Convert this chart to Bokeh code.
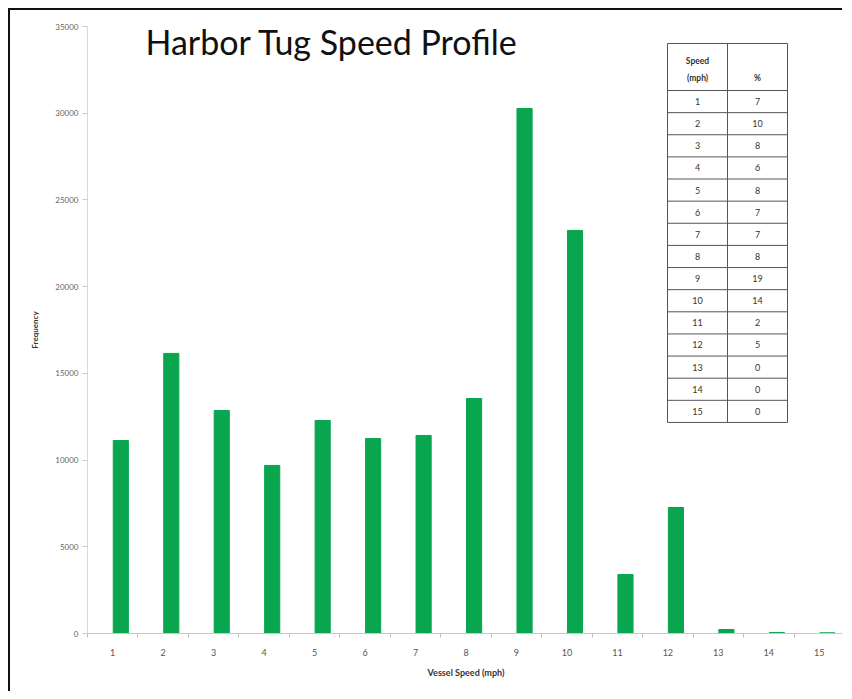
from bokeh.plotting import figure
from bokeh.models import Range1d, FixedTicker, Label
from bokeh.core.properties import value
from bokeh.embed import file_html
from bokeh.resources import INLINE

# ---- data ----
speeds = list(range(1, 16))
frequency = [11130, 16150, 12860, 9690, 12280, 11240, 11420, 13550,
             30270, 23240, 3400, 7265, 230, 60, 40]
table_speed = [str(s) for s in speeds]
table_pct = [7, 10, 8, 6, 8, 7, 7, 8, 19, 14, 2, 5, 0, 0, 0]
y_ticks = [0, 5000, 10000, 15000, 20000, 25000, 30000, 35000]
title_text = "Harbor Tug Speed Profile"
x_label = "Vessel Speed (mph)"
y_label = "Frequency"
table_header = ["Speed", "(mph)", "%"]

GREEN = "#0AA64F"
FONT = "Lato"

W, H = 834, 683
p = figure(width=W, height=H,
           x_range=Range1d(0.5, 15.5), y_range=Range1d(0, 35000),
           output_backend="svg", toolbar_location=None,
           min_border_left=77, min_border_right=0,
           min_border_top=16, min_border_bottom=60)
# dark picture border on the left and top edges
p.styles = {"border-left": "2px solid #111111", "border-top": "2px solid #111111",
            "margin-left": "8px", "margin-top": "8px"}
p.outline_line_color = None
p.xgrid.grid_line_color = None
p.ygrid.grid_line_color = None
p.background_fill_color = "white"
p.border_fill_color = "white"

# pixel-like helper ranges for annotations (table/title)
p.extra_x_ranges = {"px": Range1d(87, 844)}
p.extra_y_ranges = {"py": Range1d(start=633, end=26)}

# bars
p.vbar(x=[s + 0.16 for s in speeds], top=frequency, width=0.3,
       fill_color=GREEN, line_color=GREEN)

# axes
xa = p.xaxis[0]
xa.ticker = FixedTicker(ticks=speeds, minor_ticks=[s - 0.5 for s in speeds] + [15.5])
xa.major_tick_line_color = None
xa.major_tick_out = 0
xa.minor_tick_out = 4
xa.minor_tick_in = 0
xa.minor_tick_line_color = "#bfbfbf"
xa.axis_line_color = "#c8c8c8"
xa.major_label_standoff = 11
xa.major_label_text_font = FONT
xa.major_label_text_font_size = "9px"
xa.major_label_text_color = "#555555"
xa.axis_label = x_label
xa.axis_label_text_font = FONT
xa.axis_label_text_font_size = "9px"
xa.axis_label_text_font_style = "bold"
xa.axis_label_text_color = "#333333"
xa.axis_label_standoff = 8

ya = p.yaxis[0]
ya.ticker = FixedTicker(ticks=y_ticks)
ya.minor_tick_line_color = None
ya.major_tick_out = 5
ya.major_tick_in = 0
ya.major_tick_line_color = "#c8c8c8"
ya.axis_line_color = "#d8d8d8"
ya.major_label_standoff = 4
ya.major_label_text_font = FONT
ya.major_label_text_font_size = "8px"
ya.major_label_text_color = "#666666"
ya.axis_label = y_label
ya.axis_label_text_font = FONT
ya.axis_label_text_font_size = "8px"
ya.axis_label_text_font_style = "bold"
ya.axis_label_text_color = "#333333"
ya.axis_label_standoff = 12

# title
p.add_layout(Label(x=145, y=41, x_range_name="px", y_range_name="py",
                   text=title_text, text_font=FONT, text_font_size="34px",
                   text_color="#111111", text_baseline="middle"))

# inset table
t_left, t_mid, t_right = 667, 727, 787
t_top, h_bottom, row_h = 43, 90, 22.13
n = len(table_speed)
row_lines = [h_bottom + i * row_h for i in range(n + 1)]
hy = [t_top] + row_lines
p.segment(x0=[t_left] * len(hy), x1=[t_right] * len(hy), y0=hy, y1=hy,
          x_range_name="px", y_range_name="py", line_color="#555555", line_width=1)
vx = [t_left, t_mid, t_right]
p.segment(x0=vx, x1=vx, y0=[t_top] * 3, y1=[row_lines[-1]] * 3,
          x_range_name="px", y_range_name="py", line_color="#555555", line_width=1)

row_y = [h_bottom + (i + 0.5) * row_h for i in range(n)]
p.text(x=[(t_left + t_mid) / 2] * n, y=row_y, text=table_speed,
       x_range_name="px", y_range_name="py",
       text_align="center", text_baseline="middle",
       text_font=value(FONT), text_font_size="9px", text_color="#333333")
p.text(x=[(t_mid + t_right) / 2] * n, y=row_y, text=[str(v) for v in table_pct],
       x_range_name="px", y_range_name="py",
       text_align="center", text_baseline="middle",
       text_font=value(FONT), text_font_size="9px", text_color="#333333")
p.text(x=[(t_left + t_mid) / 2, (t_left + t_mid) / 2, (t_mid + t_right) / 2],
       y=[60, 77, 77], text=table_header,
       x_range_name="px", y_range_name="py",
       text_align="center", text_baseline="middle",
       text_font=value(FONT), text_font_size="8.5px", text_font_style="bold",
       text_color="#333333")

open("out.html", "w").write(file_html(p, INLINE))
